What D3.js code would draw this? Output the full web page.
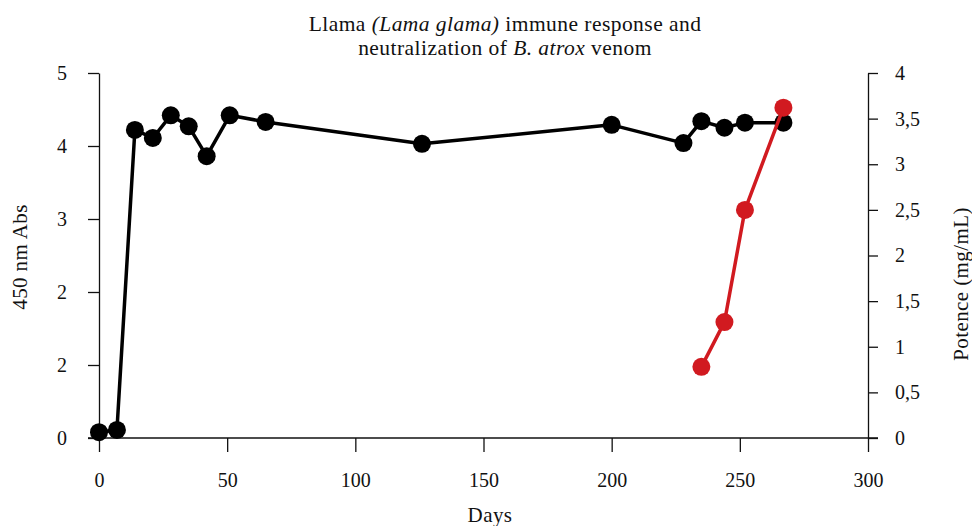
<!DOCTYPE html>
<html>
<head>
<meta charset="utf-8">
<script src="https://cdn.jsdelivr.net/npm/d3@7"></script>
<style>
  body { margin: 0; background: #fff; }
  text { font-family: "Liberation Serif", "DejaVu Serif", serif; fill: #111; }
</style>
</head>
<body>
<div id="chart"></div>
<script>
// antibody titre (black) and potence (red)
const days_abs = [0, 7, 14, 21, 28, 35, 42, 51, 65, 126, 200, 228, 235, 244, 252, 267];
const abs_vals = [0.08, 0.11, 4.22, 4.11, 4.42, 4.27, 3.86, 4.42, 4.33, 4.03, 4.29, 4.04, 4.34, 4.25, 4.32, 4.32];
const days_pot = [235, 244, 252, 267];
const pot_vals = [0.78, 1.27, 2.5, 3.62];

const x_ticks = [0, 50, 100, 150, 200, 250, 300];
const left_ticks = [0, 1, 2, 3, 4, 5];
const left_labels = ["0", "2", "2", "3", "4", "5"];
const right_ticks = [0, 0.5, 1, 1.5, 2, 2.5, 3, 3.5, 4];

const w = 972;
const h = 526;
const pl = 99, pr = 868, pt = 73, pb = 438;

let svg = d3.select('#chart').append('svg')
    .attr('width', w)
    .attr('height', h);

let xScale = d3.scaleLinear().domain([0, 300]).range([pl, pr]);
let yLeft = d3.scaleLinear().domain([0, 5]).range([pb, pt]);
let yRight = d3.scaleLinear().domain([0, 4]).range([pb, pt]);

let xAxis = d3.axisBottom(xScale).tickValues(x_ticks).tickSize(14).tickPadding(21).tickSizeOuter(0);
let yAxisL = d3.axisLeft(yLeft).tickValues(left_ticks).tickFormat((d, i) => left_labels[i])
    .tickSize(11).tickPadding(21).tickSizeOuter(0);
let yAxisR = d3.axisRight(yRight).tickValues(right_ticks).tickFormat(d => String(d).replace('.', ','))
    .tickSize(10).tickPadding(17).tickSizeOuter(0);

const styleAxis = g => {
    g.selectAll('path, line').attr('stroke', '#111').attr('stroke-width', 1.3);
    g.selectAll('text').attr('font-size', 20).attr('font-family', '"Liberation Serif", serif').attr('fill', '#111');
};

svg.append('g').attr('transform', 'translate(0,' + pb + ')').call(xAxis).call(styleAxis)
    .call(g => g.select('.domain').attr('d', 'M' + (pl - 11) + ',0H' + (pr + 10)));
svg.append('g').attr('transform', 'translate(' + pl + ',0)').call(yAxisL).call(styleAxis);
svg.append('g').attr('transform', 'translate(' + pr + ',0)').call(yAxisR).call(styleAxis);

// lines
const line = d3.line().x(d => xScale(d[0])).y(d => d[1]);
const black = days_abs.map((d, i) => [d, yLeft(abs_vals[i])]);
const red = days_pot.map((d, i) => [d, yRight(pot_vals[i])]);

svg.append('path').attr('d', line(black)).attr('fill', 'none')
    .attr('stroke', '#000').attr('stroke-width', 3.5).attr('stroke-linejoin', 'round');
svg.selectAll('circle.abs').data(black).enter().append('circle').attr('class', 'abs')
    .attr('cx', d => xScale(d[0])).attr('cy', d => d[1]).attr('r', 9).attr('fill', '#000');

svg.append('path').attr('d', line(red)).attr('fill', 'none')
    .attr('stroke', '#d11a20').attr('stroke-width', 3.5).attr('stroke-linejoin', 'round');
svg.selectAll('circle.pot').data(red).enter().append('circle').attr('class', 'pot')
    .attr('cx', d => xScale(d[0])).attr('cy', d => d[1]).attr('r', 9).attr('fill', '#d11a20');

// titles
const t1 = svg.append('text').attr('x', 505).attr('y', 31).attr('text-anchor', 'middle')
    .attr('font-size', 21.5).attr('letter-spacing', 0.45);
t1.append('tspan').text('Llama ');
t1.append('tspan').attr('font-style', 'italic').text('(Lama glama)');
t1.append('tspan').text(' immune response and');
const t2 = svg.append('text').attr('x', 505).attr('y', 55).attr('text-anchor', 'middle')
    .attr('font-size', 21.5).attr('letter-spacing', 0.45);
t2.append('tspan').text('neutralization of ');
t2.append('tspan').attr('font-style', 'italic').text('B. atrox');
t2.append('tspan').text(' venom');

svg.append('text').attr('text-anchor', 'middle').attr('font-size', 21).attr('letter-spacing', 0.4)
    .attr('transform', 'translate(27,257)rotate(-90)').text('450 nm Abs');
svg.append('text').attr('text-anchor', 'middle').attr('font-size', 21).attr('letter-spacing', 0.4)
    .attr('transform', 'translate(968,284)rotate(-90)').text('Potence (mg/mL)');
svg.append('text').attr('text-anchor', 'middle').attr('font-size', 21).attr('letter-spacing', 0.4)
    .attr('x', 490).attr('y', 522).text('Days');
</script>
</body>
</html>
